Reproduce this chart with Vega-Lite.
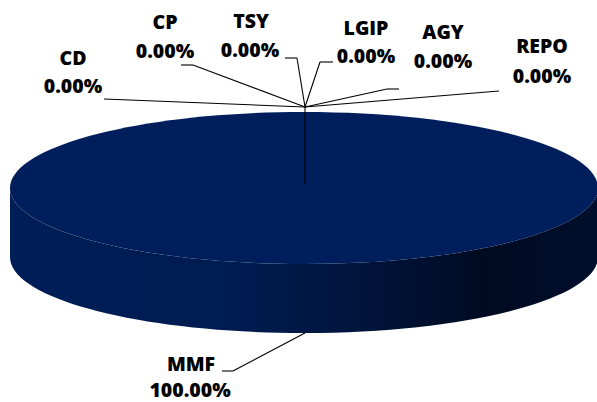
{
  "$schema": "https://vega.github.io/schema/vega-lite/v6.json",
  "width": 597,
  "height": 402,
  "padding": 0,
  "autosize": {"type": "none"},
  "background": "white",
  "config": {
    "view": {"stroke": null},
    "text": {"font": "Open Sans", "fontWeight": 800, "fontSize": 19.5, "color": "#000000", "align": "center", "baseline": "alphabetic"},
    "rule": {"color": "#000000", "strokeWidth": 1.1}
  },
  "data": {
    "values": [
      {"category": "CD", "value": 0},
      {"category": "CP", "value": 0},
      {"category": "TSY", "value": 0},
      {"category": "LGIP", "value": 0},
      {"category": "AGY", "value": 0},
      {"category": "REPO", "value": 0},
      {"category": "MMF", "value": 1}
    ]
  },
  "layer": [
    {
      "transform": [{"filter": "datum.category === 'MMF'"}],
      "mark": {
        "type": "point", "filled": true, "opacity": 1, "strokeWidth": 0, "size": 345744,
        "shape": "M -1 0 L -1 0.2347 A 1 0.2585 0 0 0 1 0.2347 L 1 0 A 1 0.2585 0 0 1 -1 0 Z",
        "fill": {"gradient": "linear", "x1": 0, "y1": 0, "x2": 1, "y2": 0,
          "stops": [
            {"offset": 0, "color": "#001d57"},
            {"offset": 0.4, "color": "#001b50"},
            {"offset": 0.6, "color": "#00143b"},
            {"offset": 0.8, "color": "#000b22"},
            {"offset": 1, "color": "#000e2b"}
          ]}
      },
      "encoding": {
        "x": {"datum": 304, "type": "quantitative", "scale": {"domain": [0, 597], "nice": false, "zero": false}, "axis": null},
        "y": {"datum": 188, "type": "quantitative", "scale": {"domain": [0, 402], "reverse": true, "nice": false, "zero": false}, "axis": null}
      }
    },
    {
      "transform": [{"filter": "datum.category === 'MMF'"}],
      "mark": {
        "type": "point", "filled": true, "opacity": 1, "strokeWidth": 0, "size": 345744,
        "shape": "M -1 0 A 1 0.2585 0 1 0 1 0 A 1 0.2585 0 1 0 -1 0 Z",
        "fill": "#001e5b"
      },
      "encoding": {
        "x": {"datum": 304, "type": "quantitative"},
        "y": {"datum": 188, "type": "quantitative"}
      }
    },
    {
      "transform": [{"filter": "datum.category === 'CD'"}],
      "layer": [
        {"mark": "text", "encoding": {"x": {"datum": 73}, "y": {"datum": 65}, "text": {"field": "category"}}},
        {"mark": "text", "encoding": {"x": {"datum": 73}, "y": {"datum": 93}, "text": {"field": "value", "type": "quantitative", "format": ".2%"}}},
        {"mark": "rule", "encoding": {"x": {"datum": 104}, "y": {"datum": 99}, "x2": {"datum": 305}, "y2": {"datum": 107}}}
      ]
    },
    {
      "transform": [{"filter": "datum.category === 'CP'"}],
      "layer": [
        {"mark": "text", "encoding": {"x": {"datum": 165}, "y": {"datum": 29}, "text": {"field": "category"}}},
        {"mark": "text", "encoding": {"x": {"datum": 165}, "y": {"datum": 58}, "text": {"field": "value", "type": "quantitative", "format": ".2%"}}},
        {"mark": "rule", "encoding": {"x": {"datum": 181}, "y": {"datum": 65}, "x2": {"datum": 193}, "y2": {"datum": 65}}},
        {"mark": "rule", "encoding": {"x": {"datum": 193}, "y": {"datum": 65}, "x2": {"datum": 305}, "y2": {"datum": 107}}}
      ]
    },
    {
      "transform": [{"filter": "datum.category === 'TSY'"}],
      "layer": [
        {"mark": "text", "encoding": {"x": {"datum": 251}, "y": {"datum": 28}, "text": {"field": "category"}}},
        {"mark": "text", "encoding": {"x": {"datum": 250}, "y": {"datum": 57}, "text": {"field": "value", "type": "quantitative", "format": ".2%"}}},
        {"mark": "rule", "encoding": {"x": {"datum": 285}, "y": {"datum": 58}, "x2": {"datum": 297}, "y2": {"datum": 58}}},
        {"mark": "rule", "encoding": {"x": {"datum": 297}, "y": {"datum": 58}, "x2": {"datum": 305}, "y2": {"datum": 107}}}
      ]
    },
    {
      "transform": [{"filter": "datum.category === 'LGIP'"}],
      "layer": [
        {"mark": "text", "encoding": {"x": {"datum": 366}, "y": {"datum": 35}, "text": {"field": "category"}}},
        {"mark": "text", "encoding": {"x": {"datum": 366}, "y": {"datum": 63}, "text": {"field": "value", "type": "quantitative", "format": ".2%"}}},
        {"mark": "rule", "encoding": {"x": {"datum": 320}, "y": {"datum": 62}, "x2": {"datum": 333}, "y2": {"datum": 62}}},
        {"mark": "rule", "encoding": {"x": {"datum": 320}, "y": {"datum": 62}, "x2": {"datum": 305}, "y2": {"datum": 107}}}
      ]
    },
    {
      "transform": [{"filter": "datum.category === 'AGY'"}],
      "layer": [
        {"mark": "text", "encoding": {"x": {"datum": 443}, "y": {"datum": 39}, "text": {"field": "category"}}},
        {"mark": "text", "encoding": {"x": {"datum": 443}, "y": {"datum": 68}, "text": {"field": "value", "type": "quantitative", "format": ".2%"}}},
        {"mark": "rule", "encoding": {"x": {"datum": 387}, "y": {"datum": 89}, "x2": {"datum": 399}, "y2": {"datum": 89}}},
        {"mark": "rule", "encoding": {"x": {"datum": 387}, "y": {"datum": 89}, "x2": {"datum": 305}, "y2": {"datum": 107}}}
      ]
    },
    {
      "transform": [{"filter": "datum.category === 'REPO'"}],
      "layer": [
        {"mark": "text", "encoding": {"x": {"datum": 542}, "y": {"datum": 53}, "text": {"field": "category"}}},
        {"mark": "text", "encoding": {"x": {"datum": 542}, "y": {"datum": 83}, "text": {"field": "value", "type": "quantitative", "format": ".2%"}}},
        {"mark": "rule", "encoding": {"x": {"datum": 499}, "y": {"datum": 91}, "x2": {"datum": 305}, "y2": {"datum": 107}}}
      ]
    },
    {
      "transform": [{"filter": "datum.category === 'MMF'"}],
      "layer": [
        {"mark": "text", "encoding": {"x": {"datum": 191}, "y": {"datum": 371}, "text": {"field": "category"}}},
        {"mark": "text", "encoding": {"x": {"datum": 190}, "y": {"datum": 397}, "text": {"field": "value", "type": "quantitative", "format": ".2%"}}},
        {"mark": "rule", "encoding": {"x": {"datum": 305}, "y": {"datum": 107}, "x2": {"datum": 305}, "y2": {"datum": 184}}},
        {"mark": "rule", "encoding": {"x": {"datum": 222}, "y": {"datum": 371}, "x2": {"datum": 233}, "y2": {"datum": 371}}},
        {"mark": "rule", "encoding": {"x": {"datum": 233}, "y": {"datum": 371}, "x2": {"datum": 305}, "y2": {"datum": 333}}}
      ]
    }
  ]
}
